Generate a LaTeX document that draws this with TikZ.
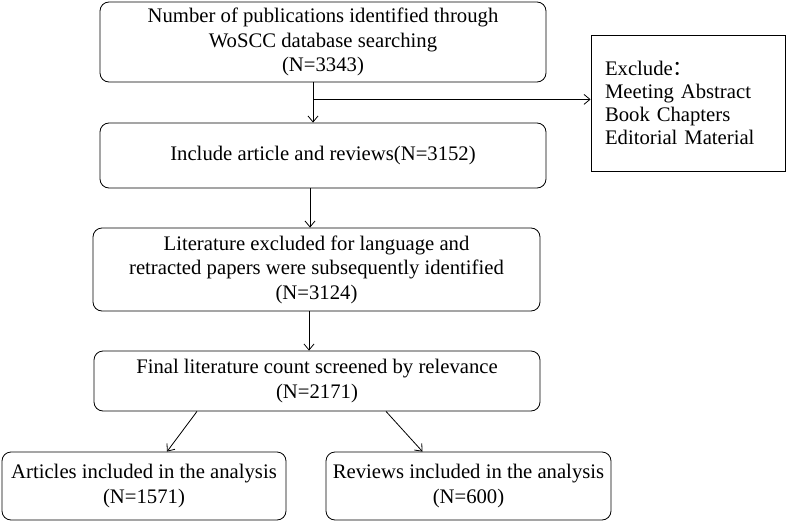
\documentclass[tikz,border=0pt]{standalone}
\usepackage{fontspec}
\setmainfont{Liberation Serif}
\newfontfamily\cjk{Noto Sans CJK SC}
\usetikzlibrary{arrows.meta}
\begin{document}
\begin{tikzpicture}[x=1pt,y=-1pt,line width=0.8pt,font=\fontsize{20.7}{24.5}\selectfont,
  >={Straight Barb[length=6pt,width=10pt]},
  box/.style={draw,rounded corners=9pt,align=center,inner sep=0pt},
  exbox/.style={draw,align=left,inner sep=14pt,text width=166pt,
    font=\fontsize{20.7}{23}\selectfont}]
  \useasboundingbox (0,0) rectangle (787,522);
  % the screening chain
  \node[box,minimum width=446pt,minimum height=80pt] (search) at (323,42)
    {Number of publications identified through\\WoSCC database searching\\(N=3343)};
  \node[box,minimum width=446pt,minimum height=65pt] (incl) at (323,155.5)
    {Include article and reviews(N=3152)};
  \node[box,minimum width=447pt,minimum height=83pt] (lang) at (316.5,269.5)
    {Literature excluded for language and\\retracted papers were subsequently identified\\(N=3124)};
  \node[box,minimum width=446pt,minimum height=60pt] (final) at (317,381)
    {Final literature count screened by relevance\\(N=2171)};
  \node[box,minimum width=284pt,minimum height=68pt] (art) at (144,486)
    {Articles included in the analysis\\(N=1571)};
  \node[box,minimum width=285pt,minimum height=68pt] (rev) at (468.5,486)
    {Reviews included in the analysis\\(N=600)};
  % excluded types
  \node[exbox,minimum height=136pt] (excl) at (688,103)
    {Exclude{\cjk ：}\\Meeting Abstract\\Book Chapters\\Editorial Material};
  \draw[->] ([xshift=-10pt]search.south) -- ([xshift=-10pt]search.south |- incl.north);
  \coordinate (split) at ([xshift=-10pt,yshift=-17pt]search.south);
  \draw[->] (split) -- (split -| excl.west);
  \draw[->] ([xshift=-13pt]incl.south) -- ([xshift=-13pt]incl.south |- lang.north);
  \draw[->] ([xshift=-8pt]final.north |- lang.south) -- ([xshift=-8pt]final.north);
  \draw[->] ([xshift=-120pt]final.south) -- ([xshift=23pt]art.north);
  \draw[->] ([xshift=69pt]final.south) -- ([xshift=-46pt]rev.north);
\end{tikzpicture}
\end{document}
